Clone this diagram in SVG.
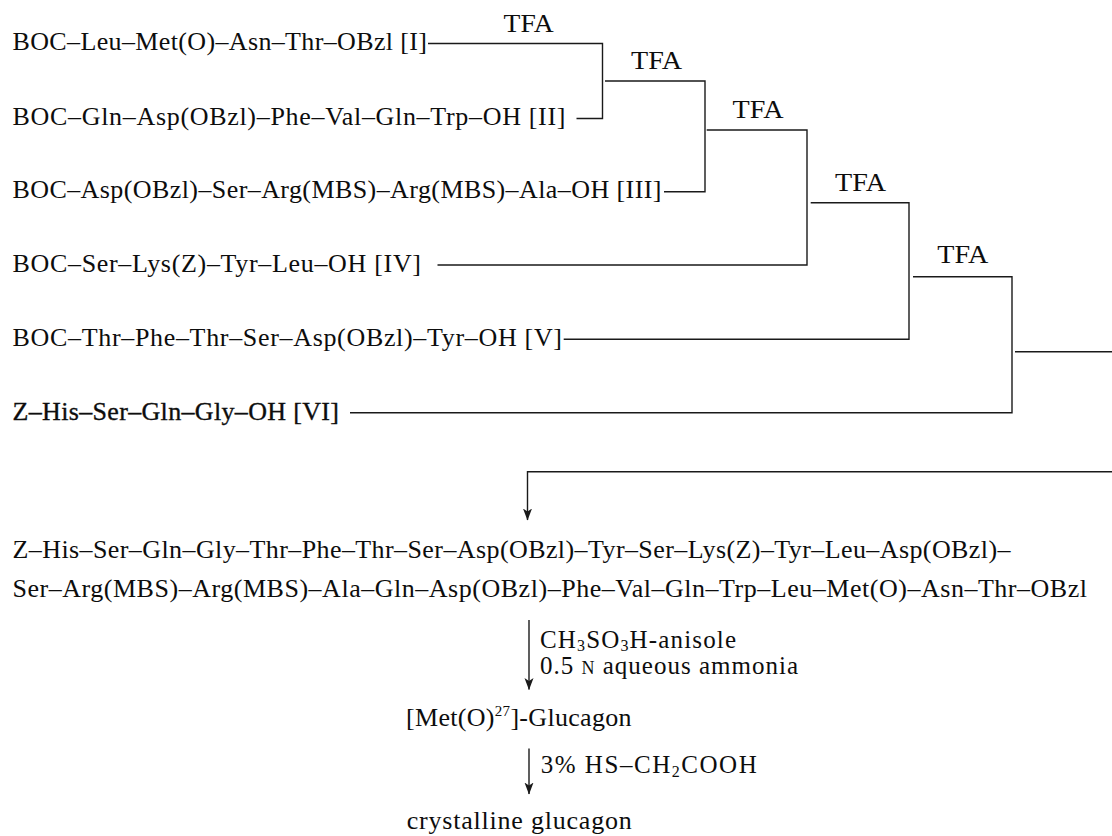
<svg xmlns="http://www.w3.org/2000/svg" width="1112" height="836" viewBox="0 0 1112 836">
  <style>
    text { font-family: "Liberation Serif", "Times New Roman", serif; font-size: 26px; fill: #0d0d0d; }
    .ln { fill: none; stroke: #1a1a1a; stroke-width: 1.4; }
    .sub { font-size: 16px; }
    .rg { font-size: 25px; }
  </style>
  <defs>
    <marker id="ah" viewBox="0 -5 12 10" refX="11.5" refY="0" markerWidth="12" markerHeight="10" markerUnits="userSpaceOnUse" orient="auto">
      <path d="M0,-4.5 L12,0 L0,4.5 L3,0 Z" fill="#1a1a1a"/>
    </marker>
  </defs>
  <rect x="0" y="0" width="1112" height="836" fill="#ffffff"/>

  <g font-family="Liberation Serif, Times New Roman, serif">
  <g id="connectors">
    <path class="ln" d="M428,43.5 H602.5 V118.5 H576.5"/>
    <path class="ln" d="M605,81 H705 V191.7 H664"/>
    <path class="ln" d="M706.7,130 H807 V265 H437.5"/>
    <path class="ln" d="M810.7,202.7 H909 V339.3 H563.7"/>
    <path class="ln" d="M913,276.7 H1012 V412.7 H350"/>
    <path class="ln" d="M1015,351.7 H1112"/>
    <path class="ln" d="M1112,471.7 H527.5 V520" marker-end="url(#ah)"/>
    <path class="ln" d="M529,620 V689.5" marker-end="url(#ah)"/>
    <path class="ln" d="M529,748.5 V794" marker-end="url(#ah)"/>
    <g id="tfa-labels">
      <text x="503.6" y="31.7" textLength="50" lengthAdjust="spacingAndGlyphs">TFA</text>
      <text x="631" y="69.3" textLength="51" lengthAdjust="spacingAndGlyphs">TFA</text>
      <text x="732.6" y="118.3" textLength="51" lengthAdjust="spacingAndGlyphs">TFA</text>
      <text x="835" y="190.7" textLength="51" lengthAdjust="spacingAndGlyphs">TFA</text>
      <text x="937.3" y="263.3" textLength="51" lengthAdjust="spacingAndGlyphs">TFA</text>
    </g>
  </g>

  <g id="node-I"><text x="12.5" y="50" textLength="414.5">BOC–Leu–Met(O)–Asn–Thr–OBzl [I]</text></g>
  <g id="node-II"><text x="12.5" y="125" textLength="553">BOC–Gln–Asp(OBzl)–Phe–Val–Gln–Trp–OH [II]</text></g>
  <g id="node-III"><text x="12.5" y="198" textLength="649">BOC–Asp(OBzl)–Ser–Arg(MBS)–Arg(MBS)–Ala–OH [III]</text></g>
  <g id="node-IV"><text x="12.5" y="271.5" textLength="408.5">BOC–Ser–Lys(Z)–Tyr–Leu–OH [IV]</text></g>
  <g id="node-V"><text x="12.5" y="346" textLength="549.5">BOC–Thr–Phe–Thr–Ser–Asp(OBzl)–Tyr–OH [V]</text></g>
  <g id="node-VI"><text x="12.5" y="419.5" textLength="326.5" stroke="#111" stroke-width="0.35">Z–His–Ser–Gln–Gly–OH [VI]</text></g>

  <g id="node-protected">
    <text x="12.5" y="557.5" textLength="998">Z–His–Ser–Gln–Gly–Thr–Phe–Thr–Ser–Asp(OBzl)–Tyr–Ser–Lys(Z)–Tyr–Leu–Asp(OBzl)–</text>
    <text x="12.5" y="596.5" textLength="1074.5">Ser–Arg(MBS)–Arg(MBS)–Ala–Gln–Asp(OBzl)–Phe–Val–Gln–Trp–Leu–Met(O)–Asn–Thr–OBzl</text>
  </g>

  <g id="reagents-1">
    <text class="rg" x="540" y="647.5" textLength="196">CH<tspan class="sub" dy="3.5">3</tspan><tspan dy="-3.5">SO</tspan><tspan class="sub" dy="3.5">3</tspan><tspan dy="-3.5">H-anisole</tspan></text>
    <text class="rg" x="540" y="674.3" textLength="258">0.5 <tspan font-size="18">N</tspan> aqueous ammonia</text>
  </g>

  <g id="node-metO-glucagon">
    <text x="406" y="726" textLength="225.5">[Met(O)<tspan font-size="15" dy="-10">27</tspan><tspan dy="10">]-Glucagon</tspan></text>
  </g>

  <g id="reagents-2">
    <text class="rg" x="540.7" y="773.3" textLength="216">3% HS–CH<tspan class="sub" dy="3.5">2</tspan><tspan dy="-3.5">COOH</tspan></text>
  </g>

  <g id="node-glucagon">
    <text x="406.7" y="829" textLength="225">crystalline glucagon</text>
  </g>
  </g>
</svg>
